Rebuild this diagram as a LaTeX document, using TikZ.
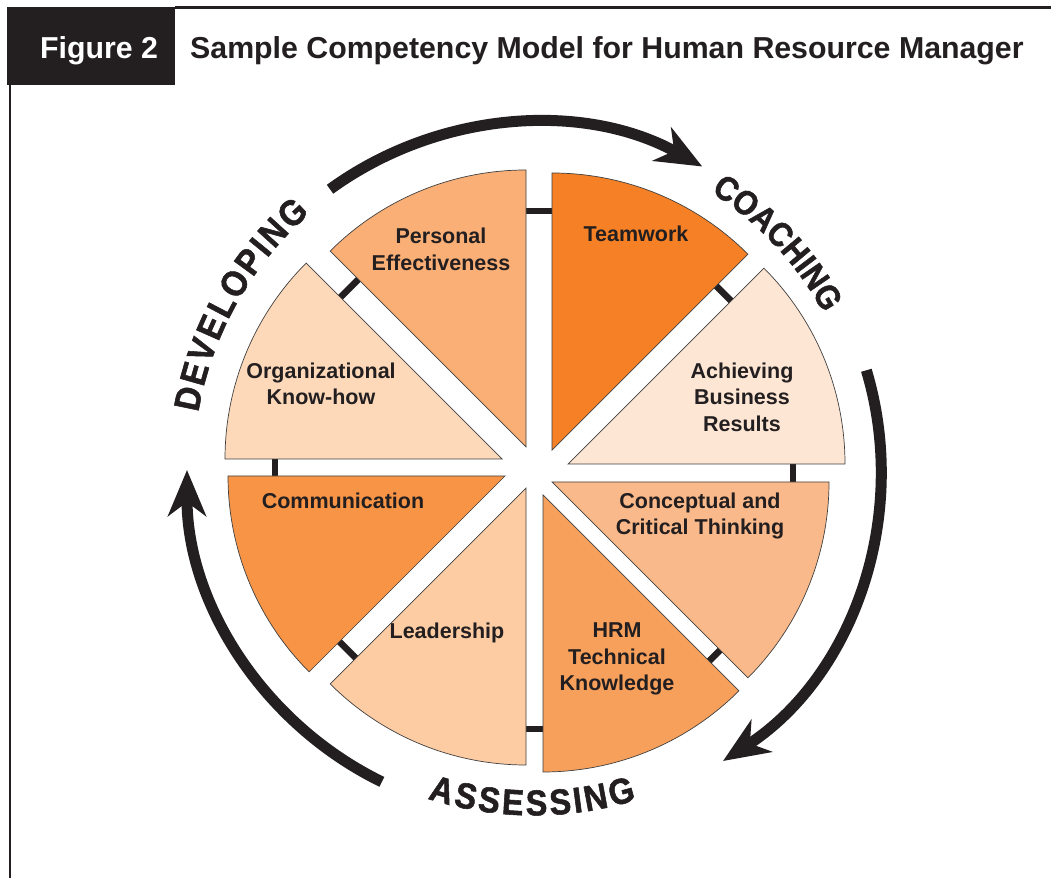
\documentclass[tikz,border=0pt]{standalone}
\usepackage{fontspec}
\setmainfont{Liberation Sans}
\newfontfamily\arcfont{Liberation Sans}[FakeStretch=0.9, FakeBold=1.5]
\usetikzlibrary{arrows.meta,calc}
\definecolor{ink}{HTML}{231F20}
\definecolor{cTeam}{HTML}{F58025}
\definecolor{cPers}{HTML}{F9AF76}
\definecolor{cOrg}{HTML}{FDD9BA}
\definecolor{cComm}{HTML}{F79446}
\definecolor{cLead}{HTML}{FDCCA3}
\definecolor{cHRM}{HTML}{F6A05C}
\definecolor{cConc}{HTML}{FAB98A}
\definecolor{cAch}{HTML}{FEE6D4}
\begin{document}
\begin{tikzpicture}[x=1pt,y=1pt,
  wedge/.style={draw=black!75, line width=0.7pt},
  lbl/.style={font=\fontsize{21.5}{26.5}\selectfont\bfseries, text=ink, align=center, inner sep=0pt},
  bar/.style={draw=ink, line width=6.5pt},
  cyc/.style={draw=ink, line width=11pt, -{Stealth[length=46pt,width=38pt,inset=14pt]}},
  arcl/.style={font=\arcfont\bfseries\fontsize{36}{36}\selectfont, text=ink, inner sep=0pt},
  arcs/.style={font=\arcfont\bfseries\fontsize{34}{34}\selectfont, text=ink, inner sep=0pt},
  ttl/.style={font=\fontsize{30.3}{32}\selectfont\bfseries, inner sep=0pt, anchor=base west}
  ]
\useasboundingbox (0,0) rectangle (1051,878);
\fill[white] (0,0) rectangle (1051,878);
% frame
\fill[ink] (7,793) rectangle (175,871);
\draw[ink, line width=3pt] (175,870.5) -- (1051,870.5);
\draw[ink, line width=2.5pt] (10,793) -- (10,0);
\node[ttl, text=white] (fig) at (40,819) {Figure 2};
\node[ttl, text=ink] (title) at (190,819) {Sample Competency Model for Human Resource Manager};

\begin{scope}[shift={(534,408)}]
  % connecting bars (behind wedges)
  \foreach \p [count=\k] in {90,45,0,-45,-90,-135,180,135} {
    \coordinate (bA\k) at ($(\p:259)+(\p+90:25)$);
    \coordinate (bB\k) at ($(\p:259)+(\p-90:25)$);
    \draw[bar] (bA\k) -- (bB\k);
  }
  % wedges
  \coordinate (aTeam) at (18,20);
  \coordinate (aPers) at (-8,23);
  \coordinate (aOrg)  at (-32,11);
  \coordinate (aComm) at (-29,-6);
  \coordinate (aLead) at (-8,-18);
  \coordinate (aHRM)  at (9,-25);
  \coordinate (aConc) at (18,-12);
  \coordinate (aAch)  at (34,6);
  \filldraw[wedge, fill=cTeam] (aTeam) -- ++(45:277) arc[start angle=45, end angle=90, radius=277] -- cycle;
  \filldraw[wedge, fill=cPers] (aPers) -- ++(90:277) arc[start angle=90, end angle=135, radius=277] -- cycle;
  \filldraw[wedge, fill=cOrg] (aOrg) -- ++(135:277) arc[start angle=135, end angle=180, radius=277] -- cycle;
  \filldraw[wedge, fill=cComm] (aComm) -- ++(180:277) arc[start angle=180, end angle=225, radius=277] -- cycle;
  \filldraw[wedge, fill=cLead] (aLead) -- ++(225:277) arc[start angle=225, end angle=270, radius=277] -- cycle;
  \filldraw[wedge, fill=cHRM] (aHRM) -- ++(270:277) arc[start angle=270, end angle=315, radius=277] -- cycle;
  \filldraw[wedge, fill=cConc] (aConc) -- ++(315:277) arc[start angle=315, end angle=360, radius=277] -- cycle;
  \filldraw[wedge, fill=cAch] (aAch) -- ++(0:277) arc[start angle=0, end angle=45, radius=277] -- cycle;
  % labels
  \node[lbl] (lPers) at (-93,220.5) {Personal\\Effectiveness};
  \node[lbl] (lTeam) at (102,236) {Teamwork};
  \node[lbl] (lOrg)  at (-213,86) {Organizational\\Know-how};
  \node[lbl] (lAch)  at (208,73) {Achieving\\Business\\Results};
  \node[lbl] (lComm) at (-191,-31) {Communication};
  \node[lbl] (lLead) at (-87,-163) {Leadership};
  \node[lbl] (lHRM)  at (83,-189) {HRM\\Technical\\Knowledge};
  \node[lbl] (lConc) at (166,-46) {Conceptual and\\Critical Thinking};
  % cycle arrows
  \draw[cyc] (126:347) arc[start angle=126, end angle=61, radius=347];
  \draw[cyc] (16.7:347) arc[start angle=16.7, end angle=-57, radius=347];
  \draw[cyc] (-116:347) arc[start angle=-116, end angle=-180, radius=347];
  % curved words
  \foreach \ch/\ang [count=\i] in {D/168.3,E/164.15,V/160.13,E/156.12,L/152.26,O/148.10,P/143.80,I/140.81,N/137.68,G/133.23} {
    \node[arcl, rotate=\ang-90] (dev\i) at (\ang:353) {\ch};
  }
  \foreach \ch/\ang [count=\i] in {C/55.6,O/51.60,A/47.61,C/43.76,H/39.91,I/37.20,N/34.49,G/30.49} {
    \node[arcs, rotate=\ang-90] (coa\i) at (\ang:341) {\ch};
  }
  \foreach \ch/\ang [count=\i] in {A/-106,S/-101.77,S/-97.70,E/-93.63,S/-89.56,S/-85.48,I/-82.49,N/-79.35,G/-74.82} {
    \node[arcl, rotate=\ang+90] (ass\i) at (\ang:333) {\ch};
  }
\end{scope}
\end{tikzpicture}
\end{document}
